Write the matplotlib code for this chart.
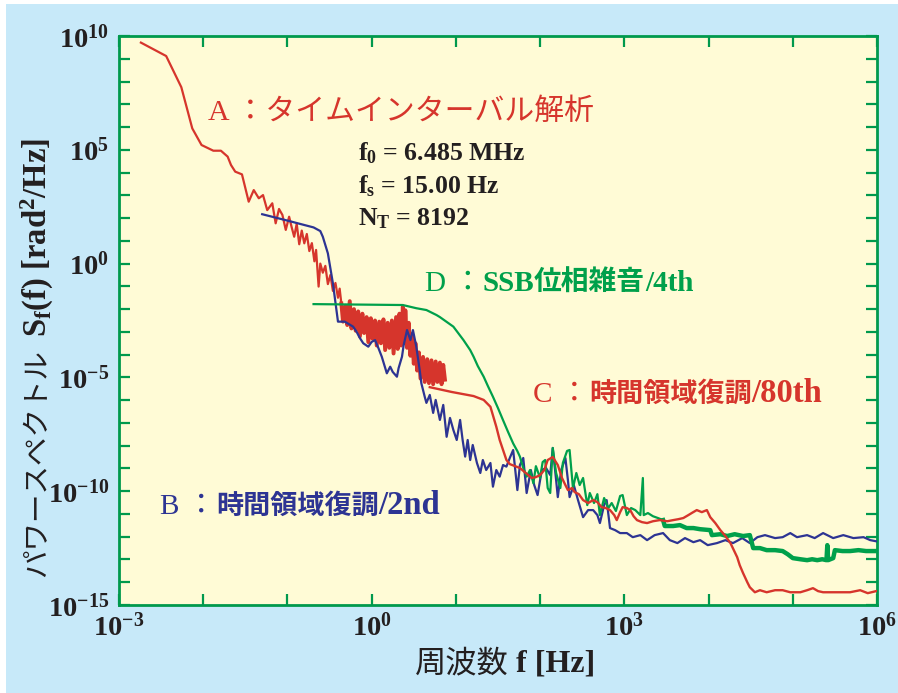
import matplotlib
matplotlib.use('Agg')
import numpy as np
import matplotlib.pyplot as plt
from matplotlib.patches import Rectangle
from matplotlib.ticker import NullLocator
from matplotlib.offsetbox import TextArea, HPacker, AnnotationBbox

plt.rcParams['mathtext.fontset'] = 'custom'
plt.rcParams['mathtext.rm'] = 'Liberation Serif:bold'
plt.rcParams['mathtext.it'] = 'Liberation Serif:italic:bold'
plt.rcParams['mathtext.bf'] = 'Liberation Serif:bold'

# ---------------- data (log10 f [Hz], log10 S_f [rad^2/Hz]) ----------------
# A : time interval analysis
a_logf = [-2.74, -2.44, -2.26, -2.13, -2.02, -1.88, -1.79, -1.71, -1.67, -1.62,
          -1.54, -1.46, -1.40, -1.34, -1.29, -1.24, -1.18, -1.14, -1.10, -1.06,
          -1.02, -0.98, -0.95, -0.92, -0.89, -0.86, -0.83, -0.80, -0.77, -0.74,
          -0.71, -0.68, -0.66, -0.63, -0.61, -0.58, -0.55, -0.52, -0.49, -0.46,
          -0.43, -0.40, -0.38,
          -0.36, -0.34, -0.31, -0.29, -0.26, -0.24, -0.21, -0.19, -0.16, -0.14,
          -0.11, -0.09, -0.06, -0.04, -0.01, 0.01, 0.04, 0.06, 0.09, 0.11,
          0.14, 0.16, 0.19, 0.21, 0.24, 0.26, 0.29, 0.31, 0.33, 0.35,
          0.37, 0.39, 0.40, 0.42, 0.44, 0.46, 0.48, 0.50, 0.52, 0.54,
          0.56, 0.58, 0.61, 0.63, 0.66, 0.68, 0.71, 0.73, 0.76, 0.78,
          0.81, 0.83, 0.85, 0.87]
a_logS = [9.71, 9.12, 7.75, 5.94, 5.21, 4.96, 4.96, 4.70, 4.33, 4.04,
          3.92, 2.72, 3.23, 2.87, 3.01, 2.35, 2.65, 1.77, 2.40, 2.14,
          1.48, 2.06, 1.60, 1.18, 1.75, 0.85, 1.45, 0.89, 1.30, 0.55,
          0.90, 0.10, 0.60, -1.01, 0.00, -0.40, -0.10, -0.90, -0.50, -1.20,
          -0.85, -1.50, -1.10,
          -1.75, -2.55, -1.85, -2.70, -1.65, -2.85, -2.00, -2.95, -2.10, -3.20,
          -2.20, -3.05, -2.35, -3.45, -2.40, -3.30, -2.50, -3.60, -2.55, -3.50,
          -2.45, -3.80, -2.60, -3.70, -2.50, -3.95, -2.35, -3.75, -2.20, -3.60,
          -1.90, -3.50, -2.05, -3.70, -2.60, -4.05, -3.10, -4.40, -3.50, -4.70,
          -3.90, -5.05, -4.10, -5.20, -4.20, -5.25, -4.25, -5.30, -4.30, -5.20,
          -4.35, -5.30, -4.45, -5.10]

# B : time domain demodulation / 2nd
b_logf = [-1.30, -0.98, -0.69, -0.61, -0.58, -0.52, -0.46, -0.40, -0.32, -0.22,
          -0.18, -0.14, -0.10, -0.04, 0.00, 0.04, 0.08, 0.12, 0.18, 0.22,
          0.25, 0.30, 0.32, 0.36, 0.38, 0.42, 0.46, 0.49, 0.53, 0.57,
          0.59, 0.63, 0.65, 0.69, 0.73, 0.76, 0.81, 0.85, 0.89, 0.93,
          0.97, 1.01, 1.05, 1.08, 1.11, 1.14, 1.17, 1.20, 1.25, 1.29,
          1.32, 1.36, 1.41, 1.44, 1.48, 1.52, 1.56, 1.60, 1.64, 1.68,
          1.73, 1.76, 1.80, 1.84, 1.89, 1.93, 1.97, 2.02, 2.07, 2.12,
          2.15, 2.19, 2.21, 2.25, 2.30, 2.33, 2.35, 2.40, 2.45, 2.51,
          2.57, 2.63, 2.68, 2.71, 2.76, 2.79, 2.83, 2.89, 2.95, 3.03,
          3.10, 3.19, 3.27, 3.36, 3.46, 3.54, 3.63, 3.72, 3.82, 3.90,
          3.99, 4.10, 4.20, 4.29, 4.40, 4.49, 4.58, 4.67, 4.79, 4.88,
          4.97, 5.05, 5.17, 5.26, 5.36, 5.48, 5.60, 5.72, 5.84, 5.92, 5.99]
b_logS = [2.17, 1.87, 1.59, 1.43, 1.18, 0.45, -0.87, -2.55, -2.55, -2.77,
          -2.99, -3.27, -3.50, -3.65, -3.44, -3.36, -3.71, -4.09, -4.82, -4.53,
          -4.76, -4.97, -4.59, -4.09, -3.58, -2.92, -3.36, -2.92, -3.65, -4.67,
          -5.26, -5.85, -6.12, -5.77, -6.56, -5.99, -6.87, -6.21, -7.61, -6.78,
          -7.31, -7.75, -6.87, -7.75, -8.48, -7.75, -8.63, -7.97, -8.76, -9.20,
          -8.63, -9.07, -8.76, -9.80, -9.07, -9.36, -8.85, -8.92, -8.54, -8.19,
          -9.95, -8.85, -8.54, -10.08, -9.07, -9.73, -10.17, -9.07, -8.98, -9.29,
          -8.10, -9.51, -10.26, -9.07, -8.54, -9.51, -10.26, -9.73, -10.39, -11.14,
          -10.83, -10.83, -11.05, -11.40, -10.61, -10.39, -11.62, -11.71, -11.84, -11.84,
          -12.02, -11.93, -12.15, -11.93, -11.84, -12.15, -12.28, -12.06, -12.24, -12.15,
          -12.37, -12.28, -12.15, -12.28, -12.06, -12.28, -12.02, -11.93, -12.06, -12.02,
          -11.84, -12.02, -11.93, -12.06, -11.84, -12.06, -11.93, -12.06, -12.02, -12.15, -12.20]

# C : time domain demodulation / 80th
c_logf = [0.69, 0.95, 1.21, 1.33, 1.41, 1.48, 1.52, 1.56, 1.60, 1.64,
          1.76, 1.83, 1.90, 1.95, 2.00, 2.05, 2.09, 2.15, 2.21, 2.26,
          2.30, 2.33, 2.38, 2.41, 2.46, 2.51, 2.57, 2.63, 2.68, 2.73,
          2.78, 2.83, 2.88, 2.91, 2.95, 2.98, 3.03, 3.07, 3.11, 3.15,
          3.21, 3.27, 3.34, 3.42, 3.51, 3.58, 3.64, 3.70, 3.76, 3.80,
          3.86, 3.92, 3.98, 4.02, 4.08, 4.14, 4.20, 4.26, 4.30, 4.34,
          4.37, 4.41, 4.46, 4.49, 4.55, 4.61, 4.69, 4.79, 4.88, 4.97,
          5.09, 5.17, 5.24, 5.30, 5.36, 5.50, 5.68, 5.80, 5.89, 5.99]
c_logS = [-5.43, -5.64, -5.82, -5.99, -6.29, -7.17, -7.75, -8.19, -8.63, -8.81,
          -8.98, -9.20, -9.42, -9.38, -9.29, -9.07, -8.63, -8.50, -8.85, -9.42,
          -9.73, -9.95, -9.86, -10.04, -10.13, -10.39, -10.52, -10.39, -10.48, -10.70,
          -10.74, -10.83, -11.05, -11.27, -10.92, -10.70, -10.74, -10.83, -11.10, -11.27,
          -11.36, -11.40, -11.32, -11.27, -11.32, -11.27, -11.23, -11.18, -11.05, -10.96,
          -10.83, -10.92, -10.83, -11.14, -11.40, -11.71, -11.97, -12.28, -12.59, -12.90,
          -13.25, -13.60, -14.00, -14.22, -14.44, -14.35, -14.44, -14.35, -14.35, -14.44,
          -14.44, -14.35, -14.26, -14.39, -14.44, -14.44, -14.44, -14.35, -14.48, -14.39]

# D : SSB phase noise / 4th
d_logf = [-0.69, 0.37, 0.53, 0.65, 0.77, 0.81, 0.97, 1.09, 1.17, 1.21,
          1.26, 1.33, 1.38, 1.44, 1.50, 1.56, 1.62, 1.68, 1.73, 1.76,
          1.80, 1.84, 1.88, 1.92, 1.95, 2.00, 2.03, 2.06, 2.09, 2.12,
          2.15, 2.19, 2.24, 2.27, 2.32, 2.35, 2.39, 2.43, 2.47, 2.51,
          2.56, 2.59, 2.64, 2.68, 2.71, 2.76, 2.81, 2.85, 2.90, 2.95,
          2.98, 3.03, 3.08, 3.13, 3.19, 3.22, 3.23, 3.28, 3.34, 3.40,
          3.46, 3.48, 3.58, 3.66, 3.74, 3.82, 3.90, 4.02, 4.04, 4.14,
          4.22, 4.31, 4.41, 4.49, 4.53, 4.61, 4.69, 4.79, 4.88, 4.94,
          5.00, 5.09, 5.17, 5.23, 5.29, 5.35, 5.40, 5.41, 5.42, 5.48,
          5.50, 5.59, 5.68, 5.78, 5.87, 5.99]
d_logS = [-1.78, -1.82, -1.96, -2.04, -2.26, -2.35, -2.77, -3.36, -3.80, -4.09,
          -4.50, -4.97, -5.38, -5.85, -6.35, -6.88, -7.40, -7.90, -8.24, -8.48,
          -8.98, -9.36, -9.07, -9.65, -8.90, -9.42, -8.72, -8.63, -9.86, -10.08,
          -8.10, -9.20, -9.86, -8.76, -8.23, -8.19, -9.86, -9.20, -9.73, -9.42,
          -10.61, -10.08, -10.52, -10.13, -11.05, -10.30, -10.74, -10.52, -10.87, -10.21,
          -10.17, -11.05, -10.74, -10.83, -11.05, -9.42, -11.05, -10.96, -11.10, -11.18,
          -11.27, -11.53, -11.53, -11.49, -11.62, -11.62, -11.67, -11.71, -11.93, -11.89,
          -11.97, -11.89, -11.97, -11.93, -12.50, -12.50, -12.59, -12.59, -12.63, -12.77,
          -12.94, -12.99, -13.03, -12.99, -13.03, -12.99, -13.03, -12.37, -13.03, -12.94,
          -12.59, -12.63, -12.63, -12.59, -12.63, -12.63]

x_tick_exp = list(range(-3, 7))
x_tick_labels = [r'$\mathdefault{10^{-3}}$', '', '', r'$\mathdefault{10^{0}}$', '', '',
                 r'$\mathdefault{10^{3}}$', '', '', r'$\mathdefault{10^{6}}$']
y_tick_exp = list(range(-15, 11))
y_tick_labels = [r'$\mathdefault{10^{%d}}$' % e if e % 5 == 0 else '' for e in y_tick_exp]

# ---------------- styling ----------------
W, H = 898, 693
BG = '#C7E9F9'
PLOT_BG = '#FFFBD6'
FRAME = '#00994D'
RED = '#D6352C'
BLUE = '#2D3493'
GREEN = '#00A04B'
INK = '#231F20'
SERIF = 'Liberation Serif'
CJK = 'Noto Sans CJK JP'
MIX = [SERIF, CJK]

fig = plt.figure(figsize=(W / 100, H / 100), dpi=100)
fig.patch.set_facecolor('white')
fig.add_artist(Rectangle((6 / W, 0), 1 - 6 / W, 1 - 4 / H, transform=fig.transFigure,
                         facecolor=BG, edgecolor='none', zorder=-10))

ax = fig.add_axes([119 / W, 1 - 605 / H, 758 / W, 569 / H])
ax.set_facecolor(PLOT_BG)
ax.set_xscale('log')
ax.set_yscale('log')
ax.set_xlim(1e-3, 1e6)
ax.set_ylim(1e-15, 1e10)


def p(v):
    return 10.0 ** np.asarray(v)


# series A: smooth/low-frequency part and dense noisy band
ax.plot(p(a_logf[:44]), p(a_logS[:44]), color=RED, lw=1.6, zorder=3)
ax.plot(p(a_logf[43:]), p(a_logS[43:]), color=RED, lw=2.8, zorder=3)
ax.plot(p(b_logf), p(b_logS), color=BLUE, lw=1.6, zorder=4)
ax.plot(p(d_logf[:61]), p(d_logS[:61]), color=GREEN, lw=1.6, zorder=5)
ax.plot(p(d_logf[60:]), p(d_logS[60:]), color=GREEN, lw=3.2, zorder=5)
ax.plot(p(c_logf), p(c_logS), color=RED, lw=1.7, zorder=6)

for s in ax.spines.values():
    s.set_color(FRAME)
    s.set_linewidth(2.0)

ax.set_xticks(p(x_tick_exp))
ax.set_xticklabels(x_tick_labels)
ax.set_yticks(p(y_tick_exp))
ax.set_yticklabels(y_tick_labels)
ax.xaxis.set_minor_locator(NullLocator())
ax.yaxis.set_minor_locator(NullLocator())
ax.tick_params(which='both', direction='in', length=8, width=1.6, color=FRAME,
               top=True, right=True)
ax.tick_params(axis='x', pad=6)
ax.tick_params(axis='y', pad=7)
for lab in ax.get_xticklabels() + ax.get_yticklabels():
    lab.set_fontfamily(SERIF)
    lab.set_fontweight('bold')
    lab.set_fontsize(20.5)
    lab.set_color(INK)


def run(xpx, ypx, parts, color, align=(0, 0.5)):
    boxes = [TextArea(t, textprops=dict(color=color, **pr)) for t, pr in parts]
    pack = HPacker(children=boxes, align='baseline', pad=0, sep=0)
    ab = AnnotationBbox(pack, (xpx / W, 1 - ypx / H), xycoords='figure fraction',
                        box_alignment=align, frameon=False, pad=0, zorder=10)
    fig.add_artist(ab)


reg = dict(family=MIX, fontsize=21.5)
run(208, 112, [('A ：タイムインターバル解析', reg)], RED)

run(425, 283, [('D ：', dict(family=MIX, fontsize=21)),
               ('SSB', dict(family=SERIF, fontsize=21, fontweight='bold')),
               ('位相雑音', dict(family=CJK, fontsize=20, fontweight='bold')),
               ('/4th', dict(family=SERIF, fontsize=21, fontweight='bold'))], GREEN)

run(533, 393, [('C ：', dict(family=MIX, fontsize=21)),
               ('時間領域復調', dict(family=CJK, fontsize=19.5, fontweight='bold')),
               ('/80th', dict(family=SERIF, fontsize=23.5, fontweight='bold'))], RED)

run(160, 505, [('B ：', dict(family=MIX, fontsize=21)),
               ('時間領域復調', dict(family=CJK, fontsize=19.5, fontweight='bold')),
               ('/2nd', dict(family=SERIF, fontsize=23.5, fontweight='bold'))], BLUE)

info = [(r'f$_{\mathdefault{0}}$ = 6.485 MHz', 160),
        (r'f$_{\mathdefault{s}}$ = 15.00 Hz', 193),
        (r'N$_{\mathdefault{T}}$ = 8192', 225)]
for txt, yb in info:
    fig.text(358 / W, 1 - yb / H, txt, family=SERIF, fontweight='bold', fontsize=18.5,
             color=INK, va='baseline', ha='left')

# axis labels
run(505, 663, [('周波数', dict(family=CJK, fontsize=22.5)),
               (' f [Hz]', dict(family=SERIF, fontsize=23, fontweight='bold'))], INK,
    align=(0.5, 0.5))

fig.text(37 / W, 1 - 577 / H, 'パワースペクトル', family=CJK, fontsize=20.5, color=INK,
         rotation=90, rotation_mode='anchor', ha='left', va='center')
fig.text(37 / W, 1 - 337 / H, r'S$_{\mathdefault{f}}$(f) [rad$^{\mathdefault{2}}$/Hz]',
         family=SERIF, fontweight='bold', fontsize=23.5, color=INK,
         rotation=90, rotation_mode='anchor', ha='left', va='center')

fig.savefig('out.png', dpi=100, facecolor=fig.get_facecolor())
